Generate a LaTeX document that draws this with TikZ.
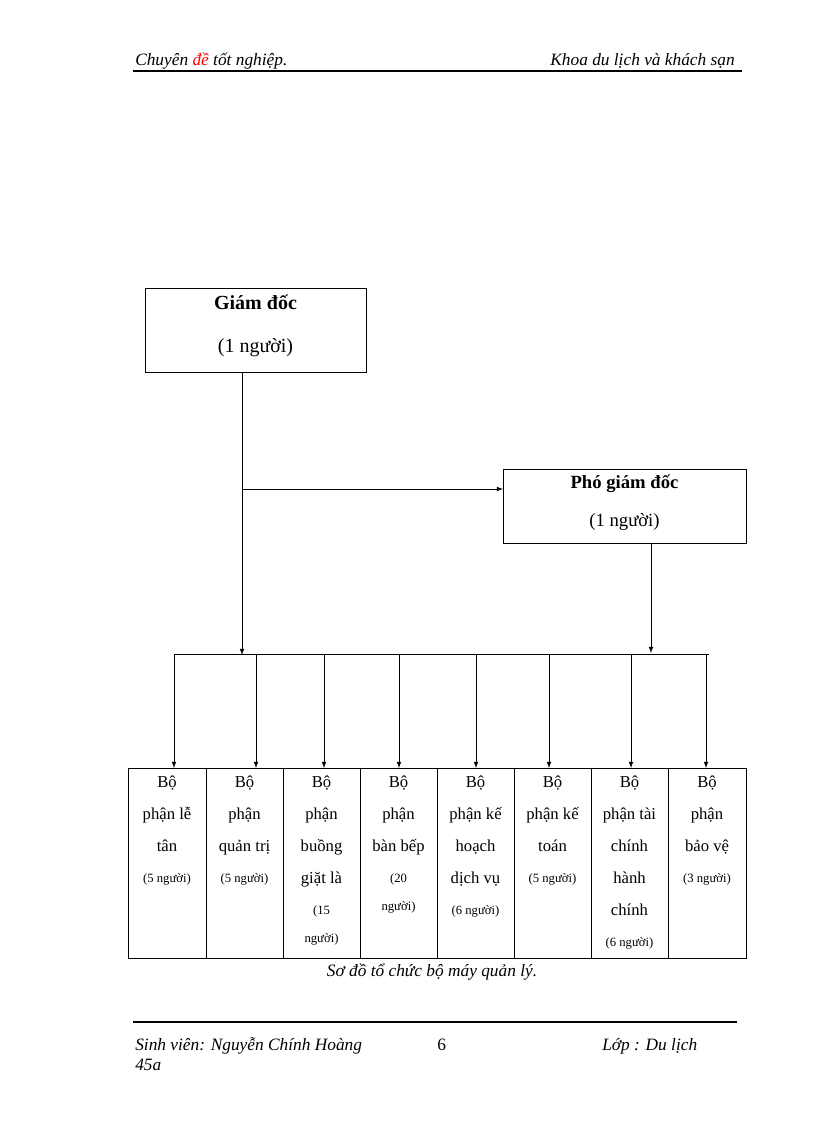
\documentclass[tikz,border=0pt]{standalone}
\usepackage{fontspec}
\setmainfont{Liberation Serif}
\begin{document}
\begin{tikzpicture}[x=0.75pt,y=-0.75pt,
  box/.style={draw,line width=0.6pt,inner sep=0},
  conn/.style={line width=0.6pt},
  arr/.style={conn,-latex},
  big/.style={font=\fontsize{15}{18}\selectfont,anchor=base},
  cell/.style={font=\fontsize{12.5}{15}\selectfont,anchor=base,inner sep=0},
  small/.style={font=\fontsize{9.5}{11}\selectfont,anchor=base,inner sep=0},
  it/.style={font=\fontsize{13}{15}\itshape,anchor=base west,inner sep=0}]
\useasboundingbox (0,0) rectangle (816,1123);
% header
\node[it] (h1) at (135,66) {Chuyên \textcolor{red}{đề} tốt nghiệp.};
\node[it,anchor=base east] (h2) at (735,66) {Khoa du lịch và khách sạn};
\draw[line width=1.2pt] (133,71) -- (742,71);
% top boxes
\draw[box] (145,288) rectangle (366,372);
\node[big,font=\fontsize{15}{18}\bfseries] (gd1) at (255.5,309) {Giám đốc};
\node[big] (gd2) at (255.5,352) {(1 người)};
\draw[box] (503,469) rectangle (746,543);
\node[big,font=\fontsize{14}{17}\bfseries] (pg1) at (624.5,488) {Phó giám đốc};
\node[big,font=\fontsize{14}{17}\selectfont] (pg2) at (624.5,526) {(1 người)};
\coordinate (g) at (242,372);
\coordinate (gb) at (242,655);
\coordinate (gm) at (242,489);
\coordinate (pin) at (503,489);
\coordinate (p) at (651,543);
\coordinate (pb) at (651,653);
\draw[arr] (g) -- (gb);
\draw[arr] (gm) -- (pin);
\draw[arr] (p) -- (pb);
\draw[conn] (174,654) coordinate (bl) -- (709,654) coordinate (br);
\foreach \x/\n in {174/a1,256/a2,324/a3,399/a4,476/a5,549/a6,631/a7,706/a8}{
  \coordinate (\n t) at (\x,654);
  \coordinate (\n b) at (\x,768);
  \draw[arr] (\n t) -- (\n b);
}
% bottom row
\draw[box] (128,768) rectangle (746,958);
\foreach \x in {206,283,360,437,514,591,668}{ \draw[line width=0.6pt] (\x,768) -- (\x,958); }
\def\L#1#2#3#4{\node[#3] (#1) at (#2) {#4};}
% column centres: 167,244.5,321.5,398.5,475.5,552.5,629.5,707
\L{c1a}{167,787}{cell}{Bộ}\L{c1b}{167,819}{cell}{phận lễ}\L{c1c}{167,851}{cell}{tân}\L{c1d}{167,882}{small}{(5 người)}
\L{c2a}{244.5,787}{cell}{Bộ}\L{c2b}{244.5,819}{cell}{phận}\L{c2c}{244.5,851}{cell}{quản trị}\L{c2d}{244.5,882}{small}{(5 người)}
\L{c3a}{321.5,787}{cell}{Bộ}\L{c3b}{321.5,819}{cell}{phận}\L{c3c}{321.5,851}{cell}{buồng}\L{c3d}{321.5,883}{cell}{giặt là}\L{c3e}{321.5,914}{small}{(15}\L{c3f}{321.5,942}{small}{người)}
\L{c4a}{398.5,787}{cell}{Bộ}\L{c4b}{398.5,819}{cell}{phận}\L{c4c}{398.5,851}{cell}{bàn bếp}\L{c4d}{398.5,882}{small}{(20}\L{c4e}{398.5,910}{small}{người)}
\L{c5a}{475.5,787}{cell}{Bộ}\L{c5b}{475.5,819}{cell}{phận kế}\L{c5c}{475.5,851}{cell}{hoạch}\L{c5d}{475.5,883}{cell}{dịch vụ}\L{c5e}{475.5,914}{small}{(6 người)}
\L{c6a}{552.5,787}{cell}{Bộ}\L{c6b}{552.5,819}{cell}{phận kế}\L{c6c}{552.5,851}{cell}{toán}\L{c6d}{552.5,882}{small}{(5 người)}
\L{c7a}{629.5,787}{cell}{Bộ}\L{c7b}{629.5,819}{cell}{phận tài}\L{c7c}{629.5,851}{cell}{chính}\L{c7d}{629.5,883}{cell}{hành}\L{c7e}{629.5,915}{cell}{chính}\L{c7f}{629.5,946}{small}{(6 người)}
\L{c8a}{707,787}{cell}{Bộ}\L{c8b}{707,819}{cell}{phận}\L{c8c}{707,851}{cell}{bảo vệ}\L{c8d}{707,882}{small}{(3 người)}
\node[it,anchor=base] (cap) at (432,976) {Sơ đồ tổ chức bộ máy quản lý.};
% footer
\draw[line width=1.2pt] (133,1022) -- (737,1022);
\node[it] (f1) at (135,1050) {Sinh viên: Nguyễn Chính Hoàng};
\node[it,font=\fontsize{13}{15}\selectfont] (f2) at (437,1050) {6};
\node[it] (f3) at (602,1050) {Lớp : Du lịch};
\node[it] (f4) at (135,1070) {45a};
\end{tikzpicture}
\end{document}
